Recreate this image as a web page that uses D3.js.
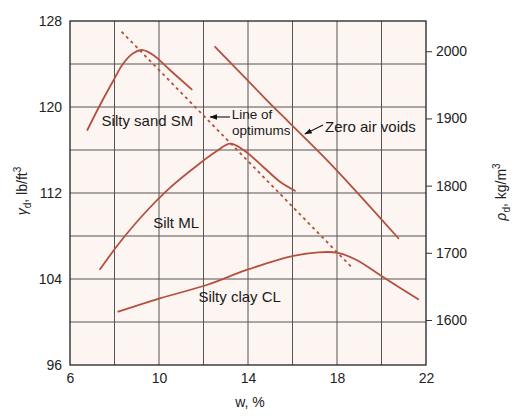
<!DOCTYPE html>
<html>
<head>
<meta charset="utf-8">
<script src="https://cdn.jsdelivr.net/npm/d3@7"></script>
<style>
  body { margin: 0; background: #fff; }
  svg { display: block; font-family: "Liberation Sans", Arial, sans-serif; }
</style>
</head>
<body>
<div id="chart"></div>
<script>
// compaction curves, [w %, dry unit weight lb/ft3]
var siltySand = [[6.78,117.86],[7.35,120.19],[7.92,122.35],[8.40,124.07],[8.84,125.0],[9.27,125.3],[9.74,124.84],[10.49,123.44],[11.47,121.64]];
var silt = [[7.35,104.9],[8.2,107.3],[9.3,110.0],[10.5,112.5],[11.8,114.7],[12.6,115.9],[13.2,116.6],[13.8,116.0],[14.7,114.4],[15.44,113.05],[16.11,112.21]];
var siltyClay = [[8.17,100.96],[10.04,102.2],[12.14,103.44],[13.94,104.84],[16.04,106.14],[17.16,106.48],[17.99,106.45],[18.88,105.77],[19.93,104.37],[21.65,102.11]];
var zeroAirVoids = [[12.52,125.6],[14.84,120.65],[15.89,118.48],[17.69,114.76],[20.76,107.79]];
var optimums = [[8.32,127.0],[18.66,105.09]];

var xTicks = [6, 10, 14, 18, 22];
var yTicks = [96, 104, 112, 120, 128];
var rhoTicks = [1600, 1700, 1800, 1900, 2000];
var xGrid = [8, 10, 12, 14, 16, 18, 20];
var yGrid = [100, 104, 108, 112, 116, 120, 124];

// labels placed in data units: [text, w, gamma]
var curveLabels = [["Silty sand SM", 7.42, 118.23], ["Silt ML", 9.74, 108.72], ["Silty clay CL", 11.77, 101.89],
                   ["Zero air voids", 17.46, 117.7]];
var optLabels = [["Line of", 13.27, 118.85], ["optimums", 13.28, 117.4]];
var arrows = [[[13.19, 119.07], [12.30, 119.07]], [[17.37, 118.33], [16.56, 117.49]]];

var W = 520, H = 416;
var margin = {top: 21, right: 94, bottom: 51, left: 70},
    width = W - margin.left - margin.right,
    height = H - margin.top - margin.bottom;

var x = d3.scaleLinear().domain([6, 22]).range([0, width]);
var y = d3.scaleLinear().domain([96, 128]).range([height, 0]);
var yRho = d3.scaleLinear().domain([1533, 2045]).range([height, 0]);

var curveColor = "#b4503c";

var svg = d3.select("#chart").append("svg")
    .attr("width", W)
    .attr("height", H);

var defs = svg.append("defs");
defs.append("marker")
    .attr("id", "arr")
    .attr("viewBox", "0 0 10 10")
    .attr("refX", 9).attr("refY", 5)
    .attr("markerWidth", 7).attr("markerHeight", 7)
    .attr("orient", "auto")
  .append("path")
    .attr("d", "M0,1.5 L10,5 L0,8.5 Z")
    .attr("fill", "#111");

var g = svg.append("g")
    .attr("transform", "translate(" + margin.left + "," + margin.top + ")");

// plot background
g.append("rect")
    .attr("width", width).attr("height", height)
    .attr("fill", "#fdf5f2");

// grid
g.selectAll(".vg").data(xGrid).enter().append("line")
    .attr("x1", function(d) { return x(d); }).attr("x2", function(d) { return x(d); })
    .attr("y1", 0).attr("y2", height)
    .attr("stroke", "#555").attr("stroke-width", 1);
g.selectAll(".hg").data(yGrid).enter().append("line")
    .attr("y1", function(d) { return y(d); }).attr("y2", function(d) { return y(d); })
    .attr("x1", 0).attr("x2", width)
    .attr("stroke", "#555").attr("stroke-width", 1);

// frame
g.append("rect")
    .attr("width", width).attr("height", height)
    .attr("fill", "none")
    .attr("stroke", "#222").attr("stroke-width", 1.3);

// axes
var xAxis = g.append("g")
    .attr("transform", "translate(0," + height + ")")
    .call(d3.axisBottom(x).tickValues(xTicks).tickSize(0).tickPadding(8));
var yAxis = g.append("g")
    .call(d3.axisLeft(y).tickValues(yTicks).tickSize(0).tickPadding(8));
var rAxis = g.append("g")
    .attr("transform", "translate(" + width + ",0)")
    .call(d3.axisRight(yRho).tickValues(rhoTicks).tickFormat(d3.format("d")).tickSize(6).tickPadding(4));

[xAxis, yAxis, rAxis].forEach(function(a) {
  a.select(".domain").remove();
  a.selectAll("text").attr("font-size", 14).attr("fill", "#222")
      .attr("font-family", "Liberation Sans, Arial, sans-serif");
  a.selectAll("line").attr("stroke", "#333");
});

// curves
var line = d3.line()
    .curve(d3.curveCatmullRom.alpha(0.5))
    .x(function(d) { return x(d[0]); })
    .y(function(d) { return y(d[1]); });

[siltySand, silt, siltyClay, zeroAirVoids].forEach(function(c) {
  g.append("path")
      .datum(c)
      .attr("fill", "none")
      .attr("stroke", curveColor)
      .attr("stroke-width", 1.8)
      .attr("stroke-linejoin", "round")
      .attr("stroke-linecap", "round")
      .attr("d", line);
});

g.append("path")
    .datum(optimums)
    .attr("fill", "none")
    .attr("stroke", curveColor)
    .attr("stroke-width", 1.8)
    .attr("stroke-dasharray", "3,3.5")
    .attr("d", d3.line().x(function(d) { return x(d[0]); }).y(function(d) { return y(d[1]); }));

// labels
g.selectAll(".lbl").data(curveLabels).enter().append("text")
    .attr("x", function(d) { return x(d[1]); })
    .attr("y", function(d) { return y(d[2]); })
    .attr("font-size", 15)
    .attr("fill", "#1a1a1a")
    .text(function(d) { return d[0]; });

g.selectAll(".opt").data(optLabels).enter().append("text")
    .attr("x", function(d) { return x(d[1]); })
    .attr("y", function(d) { return y(d[2]); })
    .attr("font-size", 13.5)
    .attr("fill", "#1a1a1a")
    .text(function(d) { return d[0]; });

arrows.forEach(function(a) {
  g.append("line")
      .attr("x1", x(a[0][0])).attr("y1", y(a[0][1]))
      .attr("x2", x(a[1][0])).attr("y2", y(a[1][1]))
      .attr("stroke", "#111").attr("stroke-width", 1.1)
      .attr("marker-end", "url(#arr)");
});

// axis titles
svg.append("text")
    .attr("x", 250).attr("y", 407)
    .attr("text-anchor", "middle")
    .attr("font-size", 14).attr("fill", "#222")
    .text("w, %");

var lt = svg.append("text")
    .attr("transform", "translate(27,191) rotate(-90)")
    .attr("text-anchor", "middle")
    .attr("font-size", 14).attr("fill", "#222");
lt.append("tspan").attr("font-style", "italic").text("γ");
lt.append("tspan").attr("font-size", 10).attr("dy", 4).text("d");
lt.append("tspan").attr("dy", -4).text(", lb/ft");
lt.append("tspan").attr("font-size", 10).attr("dy", -6).text("3");

var rt = svg.append("text")
    .attr("transform", "translate(506,192) rotate(-90)")
    .attr("text-anchor", "middle")
    .attr("font-size", 14).attr("fill", "#222");
rt.append("tspan").attr("font-style", "italic").text("ρ");
rt.append("tspan").attr("font-size", 10).attr("dy", 4).text("d");
rt.append("tspan").attr("dy", -4).text(", kg/m");
rt.append("tspan").attr("font-size", 10).attr("dy", -6).text("3");
</script>
</body>
</html>
